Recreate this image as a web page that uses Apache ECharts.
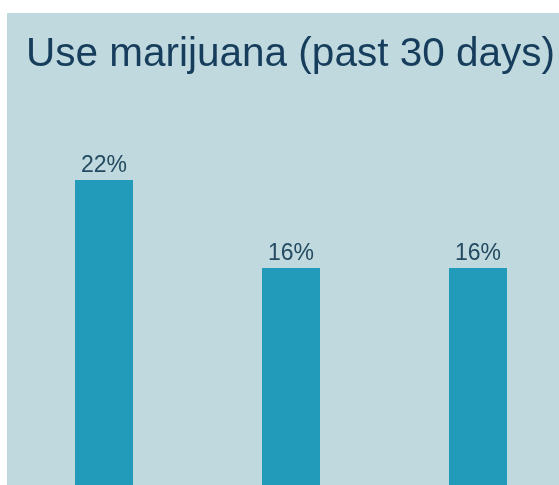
<!DOCTYPE html>
<html>
<head>
<meta charset="utf-8">
<script src="https://cdn.jsdelivr.net/npm/echarts@6/dist/echarts.min.js"></script>
<style>
    html, body { margin: 0; padding: 0; background: #ffffff; overflow: hidden; }
    #chart { position: absolute; left: 7px; top: 13px; width: 572px; height: 502px; }
</style>
</head>
<body>
<div id="chart"></div>
<script>
// 柱状图数据（横轴标签在原图中被裁掉）
const categories = ['Group 1', 'Group 2', 'Group 3'];
const values = [22, 16, 16];

const chart = echarts.init(document.getElementById('chart'));

const option = {
    backgroundColor: '#c0d9de',
    animation: false,
    title: {
        text: 'Use marijuana (past 30 days)',
        left: 14,
        top: 16,
        textStyle: {
            fontFamily: 'Liberation Sans',
            fontSize: 40.5,
            fontWeight: 'normal',
            color: '#163d5c'
        }
    },
    grid: {
        left: 3.5,
        right: 7.5,
        top: 167,
        bottom: 12
    },
    xAxis: {
        type: 'category',
        data: categories,
        axisLine: { show: false },
        axisTick: { show: false },
        axisLabel: { show: false }
    },
    yAxis: {
        type: 'value',
        min: 0,
        max: 22,
        show: false,
        splitLine: { show: false }
    },
    series: [
        {
            type: 'bar',
            data: values,
            barWidth: 58,
            itemStyle: { color: '#229bba' },
            label: {
                show: true,
                position: 'top',
                distance: 3,
                formatter: '{c}%',
                fontFamily: 'Liberation Sans',
                fontSize: 23,
                color: '#234a60'
            }
        }
    ]
};

chart.setOption(option);
</script>
</body>
</html>
